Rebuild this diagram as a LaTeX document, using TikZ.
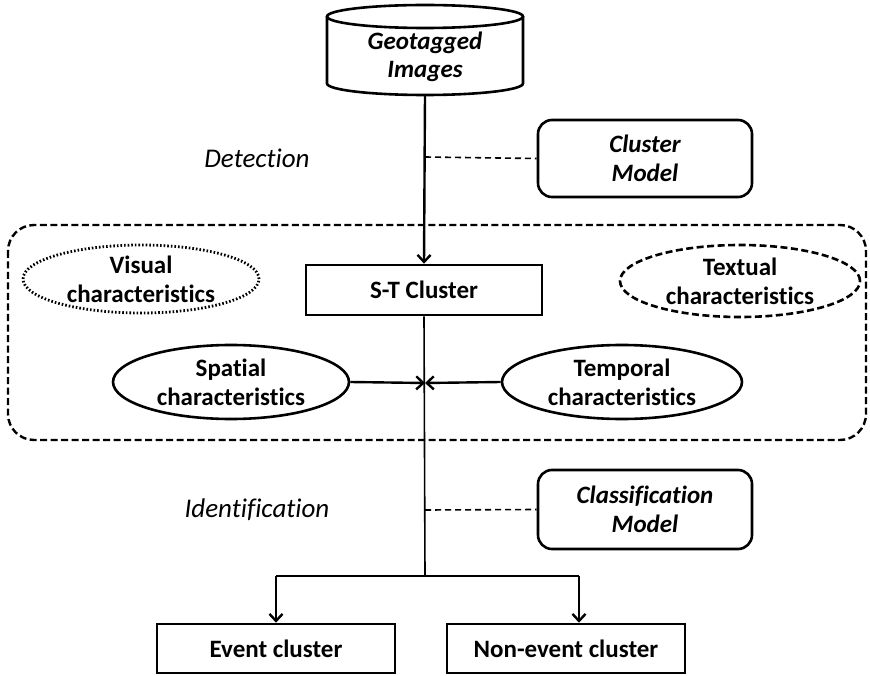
\documentclass[tikz,border=0pt]{standalone}
\usepackage{fontspec}
\setmainfont{Carlito}[Ligatures=NoCommon]
\usetikzlibrary{shapes.geometric,arrows.meta}
\begin{document}
\begin{tikzpicture}[x=1pt,y=-1pt,
  lbl/.style={font=\fontsize{25}{29}\selectfont\bfseries, align=center},
  box/.style={lbl, draw, line width=2.6pt, inner sep=0pt},
  ell/.style={lbl, ellipse, draw, line width=2.6pt, inner sep=0pt},
  model/.style={box, rounded corners=14pt, font=\fontsize{25}{29}\selectfont\bfseries\itshape},
  phase/.style={font=\fontsize{27}{30}\selectfont\itshape},
  arr/.style={-{Straight Barb[length=7pt,width=13pt,line width=2.4pt]}, line width=2.4pt},
  link/.style={line width=1.6pt, dash pattern=on 6pt off 4pt}]
\useasboundingbox (0,0) rectangle (870,676);

% cylinder
\draw[line width=2.6pt] (327,16.5) -- (327,83.5) arc[start angle=180,end angle=360,x radius=98pt,y radius=11.5pt] -- (523,16.5);
\draw[line width=2.6pt] (425,16.5) ellipse[x radius=98pt,y radius=11.5pt];
\node[lbl, font=\fontsize{25}{28}\selectfont\bfseries\itshape] (geo) at (425,57) {Geotagged\\Images};
\coordinate (geobot) at (425,95);

% detection
\node[phase] (det) at (257,158) {Detection};
\node[model, minimum width=214pt, minimum height=77pt] (cm) at (645,158.5) {Cluster\\Model};

% big dashed region
\draw[line width=2.4pt, dash pattern=on 7pt off 3.5pt, rounded corners=26pt] (8,225) rectangle (866,440);

\node[ell, minimum width=236pt, minimum height=68pt, dash pattern=on 1.6pt off 2pt, line width=2.8pt] (vis) at (141,279) {Visual\\characteristics};
\node[box, minimum width=236pt, minimum height=50pt] (st) at (424,290) {S-T Cluster};
\node[ell, minimum width=240pt, minimum height=72pt, dash pattern=on 7pt off 3.5pt] (tex) at (740,281) {Textual\\characteristics};
\node[ell, minimum width=236pt, minimum height=74pt] (spa) at (231,382) {Spatial\\characteristics};
\node[ell, minimum width=240pt, minimum height=74pt] (tem) at (622,382) {Temporal\\characteristics};
\coordinate (jn) at (425,383);

% identification
\node[phase] (idf) at (257,510) {Identification};
\node[model, minimum width=214pt, minimum height=79pt] (clm) at (645,509.5) {Classification\\Model};

% outputs
\node[box, minimum width=238pt, minimum height=49pt] (ev) at (276,648.5) {Event cluster};
\node[box, minimum width=238pt, minimum height=49pt] (nev) at (566,648.5) {Non-event cluster};
\coordinate (br) at (425,576);
\coordinate (brl) at (276,576);
\coordinate (brr) at (579,576);

% connectors
\draw[arr] (geobot) -- (st.north);
\draw[link] (425,157) -- (cm.west);
\draw[line width=1.6pt] (st.south) -- (br);
\draw[arr] (spa.east) -- (jn);
\draw[arr] (tem.west) -- (jn);
\draw[link] (425,510) -- (clm.west);
\draw[line width=2.4pt] (brl) -- (brr);
\draw[arr] (brl) -- (ev.north);
\draw[arr] (brr) -- (brr |- nev.north);
\end{tikzpicture}
\end{document}
